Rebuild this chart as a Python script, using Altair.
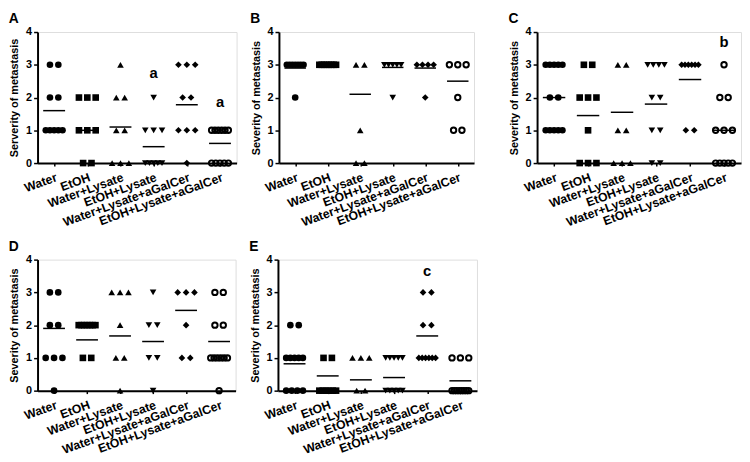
import altair as alt
import pandas as pd

GROUPS = ["Water", "EtOH", "Water+Lysate", "EtOH+Lysate",
          "Water+Lysate+aGalCer", "EtOH+Lysate+aGalCer"]
SHAPES = ["circle", "square", "triangle-up", "triangle-down", "diamond", "circle"]

# Individual scores per group
A_DOTS = [
    [3, 3, 2, 2, 1, 1, 1, 1, 1],
    [2, 2, 2, 1, 1, 1, 0, 0],
    [3, 2, 2, 1, 1, 0, 0, 0],
    [2, 1, 1, 1, 0, 0, 0, 0, 0],
    [3, 3, 3, 2, 2, 1, 1, 1, 0],
    [1, 1, 1, 1, 1, 1, 0, 0, 0, 0, 0],
]
A_MEANS = [1.6, 1.0, 1.1, 0.5, 1.78, 0.6]

B_DOTS = [
    [3, 3, 3, 3, 3, 3, 3, 2],
    [3, 3, 3, 3, 3, 3, 3, 3],
    [3, 3, 1, 0, 0],
    [3, 3, 3, 3, 3, 2],
    [3, 3, 3, 3, 2],
    [3, 3, 3, 2, 1, 1],
]
B_MEANS = [2.9, 3.0, 2.1, 2.92, 2.9, 2.5]

C_DOTS = [
    [3, 3, 3, 3, 3, 2, 2, 1, 1, 1, 1, 1],
    [3, 3, 2, 2, 2, 1, 0, 0, 0],
    [3, 3, 1, 1, 0, 0, 0],
    [3, 3, 3, 3, 2, 2, 1, 1, 0, 0],
    [3, 3, 3, 3, 3, 3, 1, 1],
    [3, 2, 2, 1, 1, 1, 0, 0, 0, 0, 0],
]
C_MEANS = [2.0, 1.45, 1.55, 1.8, 2.55, 1.0]

D_DOTS = [
    [3, 3, 2, 2, 1, 1, 1, 0],
    [2, 2, 2, 2, 2, 2, 2, 1, 1],
    [3, 3, 3, 2, 1, 1, 0],
    [3, 2, 2, 1, 1, 0],
    [3, 3, 3, 2, 1, 1],
    [3, 3, 2, 2, 1, 1, 1, 1, 1, 1, 0],
]
D_MEANS = [1.9, 1.55, 1.67, 1.5, 2.45, 1.5]

E_DOTS = [
    [2, 2, 1, 1, 1, 1, 1, 0, 0, 0, 0],
    [1, 1, 0, 0, 0, 0, 0, 0],
    [1, 1, 1, 0, 0],
    [1, 1, 1, 1, 1, 0, 0, 0, 0, 0],
    [3, 3, 2, 2, 1, 1, 1, 1, 1, 1],
    [1, 1, 1, 0, 0, 0, 0, 0, 0, 0, 0],
]
E_MEANS = [0.82, 0.45, 0.33, 0.4, 1.67, 0.3]

A_NOTES = [("a", 3, 2.75), ("a", 5, 1.85)]
B_NOTES = []
C_NOTES = [("b", 5, 3.7)]
D_NOTES = []
E_NOTES = [("c", 4, 3.65)]

FONT = "Liberation Sans"
HEIGHT = 133


def panel(letter, ytitle, dots, means, notes, width):
    band = width / 6.0
    rows = []
    for gi, vals in enumerate(dots):
        counts = {}
        for v in vals:
            counts[v] = counts.get(v, 0) + 1
        for v, n in counts.items():
            sp = 8.5 if n <= 2 else min(8.5, 17.0 / (n - 1))
            for j in range(n):
                off = (j - (n - 1) / 2.0) * sp
                rows.append({"group": GROUPS[gi], "gi": gi, "value": v,
                             "x": gi + off / band})
    dots_df = pd.DataFrame(rows)
    mean_df = pd.DataFrame({"gi": list(range(6)), "m": means})
    mean_df["lo"] = mean_df["gi"] - 0.33
    mean_df["hi"] = mean_df["gi"] + 0.33
    note_df = pd.DataFrame(notes, columns=["t", "gi", "y"]) if notes else \
        pd.DataFrame({"t": [""], "gi": [0], "y": [0.0]})

    labels = "[" + ",".join("'%s'" % g for g in GROUPS) + "][datum.value]"
    xscale = alt.Scale(domain=[-0.5, 5.5], nice=False, zero=False)
    yscale = alt.Scale(domain=[0, 4], nice=False, zero=True)
    xaxis = alt.Axis(values=list(range(6)), labelExpr=labels, labelAngle=340,
                     labelAlign="right", labelBaseline="top", labelFont=FONT,
                     labelFontSize=12.5, labelFontWeight="bold", labelColor="black",
                     labelOverlap=False, labelFlush=False, labelPadding=5,
                     tickSize=3, tickColor="black", tickWidth=1.5,
                     domainColor="black", domainWidth=2, grid=False, title=None)
    yaxis = alt.Axis(values=[0, 1, 2, 3, 4], format="d", title=ytitle,
                     titleFont=FONT, titleFontSize=11, titleFontWeight="bold",
                     titleColor="black", titlePadding=6,
                     labelFont=FONT, labelFontSize=11, labelFontWeight="bold",
                     labelColor="black", tickSize=4, tickColor="black",
                     tickWidth=1.5, domainColor="black", domainWidth=2,
                     grid=False)

    base_x = alt.X("x:Q", scale=xscale, axis=xaxis)
    base_y = alt.Y("value:Q", scale=yscale, axis=yaxis)

    filled = alt.Chart(dots_df).transform_filter("datum.gi < 5").mark_point(
        filled=True, color="black", opacity=1, size=45, strokeWidth=0
    ).encode(x=base_x, y=base_y,
             shape=alt.Shape("group:N", scale=alt.Scale(domain=GROUPS, range=SHAPES),
                             legend=None))
    opened = alt.Chart(dots_df).transform_filter("datum.gi == 5").mark_point(
        filled=False, shape="circle", color="black", opacity=1, size=30,
        strokeWidth=2
    ).encode(x=base_x, y=base_y)
    rules = alt.Chart(mean_df).mark_rule(color="black", strokeWidth=1.5).encode(
        x=alt.X("lo:Q", scale=xscale, axis=xaxis), x2="hi:Q",
        y=alt.Y("m:Q", scale=yscale, axis=yaxis))
    text = alt.Chart(note_df).mark_text(
        font=FONT, fontSize=15, fontWeight="bold", color="black"
    ).encode(x=alt.X("gi:Q", scale=xscale, axis=xaxis),
             y=alt.Y("y:Q", scale=yscale, axis=yaxis), text="t:N")

    return alt.layer(filled, opened, rules, text).properties(
        width=width, height=HEIGHT,
        title=alt.TitleParams(letter, anchor="start", font=FONT, fontSize=14,
                              fontWeight="bold", color="black", offset=0))


pA = panel("A", "Serverity of metastasis", A_DOTS, A_MEANS, A_NOTES, 202)
pB = panel("B", "Severity of metastasis", B_DOTS, B_MEANS, B_NOTES, 198)
pC = panel("C", "Severity of metastasis", C_DOTS, C_MEANS, C_NOTES, 207)
pD = panel("D", "Severity of metastasis", D_DOTS, D_MEANS, D_NOTES, 201)
pE = panel("E", "Severity of metastasis", E_DOTS, E_MEANS, E_NOTES, 202)

top = alt.hconcat(alt.hconcat(pA, pB, spacing=12), pC, spacing=33)
bottom = alt.hconcat(pD, pE, spacing=12)

chart = alt.vconcat(top, bottom, spacing=10).properties(
    padding=0).configure_view(stroke=None).configure(background="white")

chart.save("out.html", embed_options={"renderer": "svg", "actions": False})
